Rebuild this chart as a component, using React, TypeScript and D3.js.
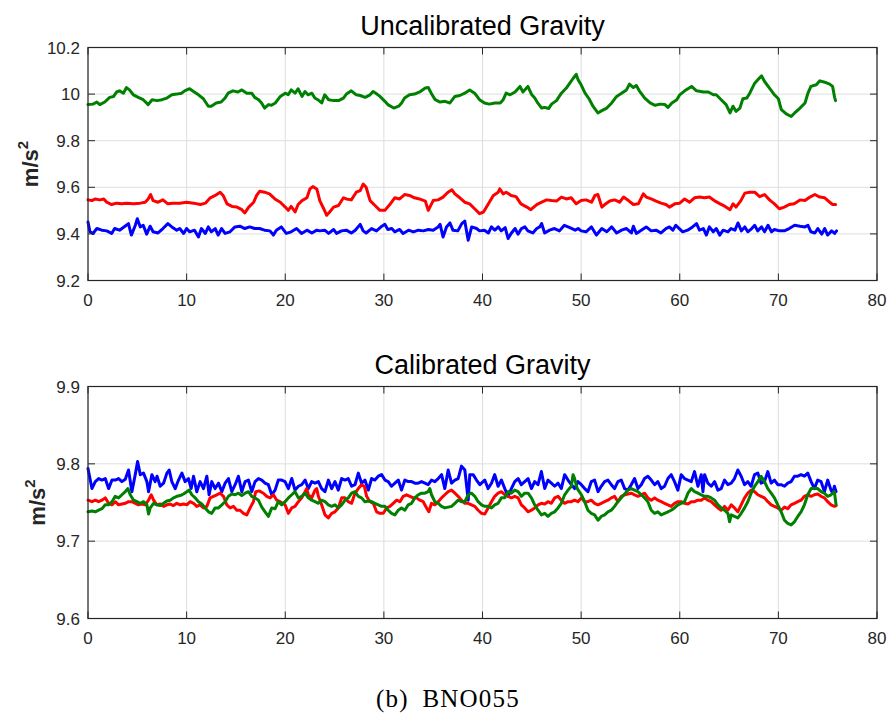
import React from 'react';
import * as d3 from 'd3';

type P = [number, number];

const xTicks = [0, 10, 20, 30, 40, 50, 60, 70, 80];
const topYTicks = [9.2, 9.4, 9.6, 9.8, 10, 10.2];
const botYTicks = [9.6, 9.7, 9.8, 9.9];
const topTitle = 'Uncalibrated Gravity';
const botTitle = 'Calibrated Gravity';
const yLabelMain = 'm/s';
const yLabelSup = '2';
const caption = '(b)\u2002BNO055';

const topGreen: P[] = [[0,9.955],[0.5,9.957],[0.9,9.966],[1.2,9.955],[1.7,9.966],[2.2,9.986],[2.6,9.990],[2.9,10.009],[3.2,10.014],[3.6,10.004],[3.9,10.028],[4.2,10.018],[4.6,9.997],[5.1,9.986],[5.6,9.976],[6.1,9.955],[6.5,9.976],[7.0,9.972],[7.5,9.976],[8.0,9.983],[8.5,9.997],[9.0,10.0],[9.5,10.004],[9.8,10.014],[10.3,10.023],[10.7,10.011],[11.2,9.997],[11.7,9.980],[12.2,9.948],[12.5,9.948],[13.0,9.962],[13.5,9.966],[13.9,9.983],[14.2,10.004],[14.7,10.014],[15.2,10.009],[15.6,10.018],[16.1,10.004],[16.6,10.004],[16.9,9.986],[17.3,9.976],[17.6,9.962],[17.9,9.940],[18.3,9.955],[18.6,9.952],[19.0,9.962],[19.5,9.990],[20.0,10.004],[20.3,9.997],[20.6,10.018],[21.0,10.004],[21.3,10.023],[21.7,9.990],[22.0,10.011],[22.3,9.997],[22.7,10.004],[23.0,9.983],[23.3,9.976],[23.7,9.962],[24.0,9.997],[24.4,9.976],[24.9,9.972],[25.4,9.972],[25.9,9.983],[26.2,10.0],[26.7,10.014],[27.2,9.997],[27.6,9.994],[28.1,9.986],[28.6,9.997],[28.9,10.011],[29.3,10.0],[29.6,9.990],[30.1,9.969],[30.4,9.955],[31.0,9.940],[31.5,9.948],[31.8,9.962],[32.1,9.983],[32.6,9.997],[33.1,10.0],[33.7,10.011],[34.2,10.026],[34.5,10.028],[34.8,10.004],[35.2,9.976],[35.7,9.966],[36.2,9.969],[36.7,9.962],[37.2,9.990],[37.7,9.994],[38.2,10.004],[38.7,10.018],[39.2,10.004],[39.7,9.976],[40.2,9.962],[40.7,9.957],[41.25,9.962],[41.8,9.962],[42.1,9.976],[42.4,10.004],[42.8,9.997],[43.3,10.009],[43.8,10.033],[44.1,10.009],[44.6,10.033],[45.0,9.997],[45.3,9.983],[45.6,9.962],[46.0,9.940],[46.3,9.943],[46.7,9.938],[47.0,9.957],[47.5,9.972],[48.0,10.004],[48.5,10.026],[48.85,10.047],[49.2,10.068],[49.5,10.085],[49.7,10.061],[50.0,10.040],[50.4,10.004],[50.8,9.980],[51.2,9.948],[51.7,9.919],[52.1,9.929],[52.6,9.940],[53.1,9.962],[53.6,9.990],[54.1,10.004],[54.6,10.018],[54.9,10.043],[55.3,10.028],[55.6,10.037],[55.9,10.014],[56.45,9.983],[57.0,9.962],[57.5,9.952],[58.0,9.957],[58.5,9.955],[58.8,9.943],[59.2,9.962],[59.7,9.976],[60.0,9.997],[60.5,10.014],[61.2,10.033],[61.7,10.014],[62.4,10.009],[62.9,10.009],[63.4,9.997],[63.7,9.997],[64.2,9.976],[64.7,9.955],[65.1,9.919],[65.4,9.948],[65.7,9.926],[66.1,9.940],[66.4,9.980],[66.8,9.983],[67.1,10.004],[67.6,10.047],[67.9,10.061],[68.3,10.078],[68.6,10.054],[69.1,10.026],[69.6,9.997],[70.0,9.980],[70.3,9.933],[70.8,9.915],[71.3,9.904],[71.65,9.919],[72.2,9.940],[72.7,9.962],[73.0,10.004],[73.3,10.033],[73.85,10.040],[74.2,10.057],[74.7,10.051],[75.2,10.043],[75.5,10.033],[75.7,9.986],[75.8,9.972]];

const topRed: P[] = [[0,9.546],[0.4,9.543],[0.7,9.550],[1.2,9.546],[1.6,9.550],[1.9,9.536],[2.4,9.526],[2.9,9.532],[3.4,9.529],[3.9,9.532],[4.6,9.529],[5.3,9.532],[5.8,9.536],[6.1,9.550],[6.35,9.569],[6.6,9.543],[7.1,9.536],[7.6,9.546],[8.1,9.529],[8.6,9.532],[9.3,9.532],[10.0,9.536],[10.7,9.532],[11.4,9.526],[11.9,9.532],[12.4,9.555],[12.9,9.565],[13.4,9.579],[13.7,9.565],[14.1,9.529],[14.6,9.518],[15.1,9.515],[15.6,9.504],[15.9,9.490],[16.3,9.515],[16.8,9.536],[17.1,9.565],[17.4,9.583],[17.9,9.579],[18.4,9.572],[18.95,9.550],[19.5,9.536],[20.0,9.515],[20.3,9.501],[20.6,9.518],[21.0,9.494],[21.3,9.526],[21.7,9.543],[22.2,9.555],[22.5,9.593],[22.8,9.603],[23.2,9.593],[23.5,9.543],[23.9,9.508],[24.2,9.480],[24.5,9.494],[24.9,9.515],[25.4,9.522],[25.9,9.555],[26.2,9.550],[26.7,9.546],[27.2,9.579],[27.6,9.586],[27.9,9.614],[28.2,9.600],[28.6,9.543],[29.1,9.522],[29.6,9.501],[30.1,9.501],[30.6,9.526],[31.1,9.555],[31.6,9.550],[32.1,9.569],[32.6,9.565],[33.1,9.555],[33.6,9.550],[34.2,9.541],[34.5,9.501],[35.0,9.543],[35.5,9.546],[36.0,9.558],[36.5,9.579],[36.9,9.589],[37.2,9.572],[37.7,9.555],[38.2,9.536],[38.7,9.529],[39.2,9.508],[39.7,9.487],[40.1,9.494],[40.6,9.529],[41.1,9.565],[41.6,9.579],[41.75,9.593],[42.1,9.572],[42.4,9.579],[42.9,9.565],[43.4,9.560],[43.9,9.529],[44.5,9.515],[44.9,9.504],[45.5,9.526],[46.0,9.536],[46.5,9.546],[47.0,9.543],[47.5,9.541],[48.0,9.558],[48.5,9.550],[49.0,9.555],[49.5,9.529],[50.0,9.543],[50.5,9.546],[51.05,9.536],[51.4,9.565],[51.7,9.569],[52.1,9.515],[52.4,9.526],[52.9,9.541],[53.4,9.546],[53.9,9.536],[54.3,9.558],[54.8,9.543],[55.3,9.526],[55.8,9.529],[56.3,9.572],[56.6,9.558],[57.1,9.550],[57.6,9.541],[58.1,9.532],[58.6,9.526],[58.95,9.515],[59.5,9.529],[60.0,9.532],[60.5,9.550],[61.0,9.536],[61.5,9.555],[62.0,9.558],[62.5,9.555],[63.0,9.558],[63.5,9.543],[64.1,9.529],[64.6,9.518],[65.1,9.504],[65.4,9.529],[65.7,9.515],[66.2,9.543],[66.6,9.575],[67.1,9.579],[67.6,9.579],[68.1,9.560],[68.6,9.569],[69.1,9.546],[69.6,9.529],[70.1,9.508],[70.6,9.515],[71.1,9.526],[71.6,9.529],[72.2,9.546],[72.7,9.543],[73.2,9.558],[73.7,9.569],[74.2,9.558],[74.7,9.555],[75.2,9.536],[75.5,9.526],[75.8,9.526]];

const topBlue: P[] = [[0,9.451],[0.2,9.409],[0.5,9.402],[0.9,9.423],[1.4,9.416],[1.9,9.413],[2.4,9.402],[2.7,9.423],[3.2,9.416],[3.75,9.433],[4.1,9.444],[4.4,9.395],[4.8,9.437],[5.0,9.465],[5.3,9.430],[5.6,9.437],[5.95,9.399],[6.3,9.433],[6.6,9.409],[7.1,9.404],[7.6,9.423],[8.1,9.444],[8.5,9.430],[9.0,9.416],[9.3,9.423],[9.7,9.402],[10.0,9.423],[10.3,9.409],[10.8,9.416],[11.2,9.387],[11.5,9.423],[11.9,9.402],[12.2,9.430],[12.5,9.409],[12.9,9.423],[13.2,9.395],[13.55,9.423],[13.9,9.402],[14.4,9.409],[14.9,9.430],[15.4,9.433],[15.9,9.423],[16.4,9.430],[16.9,9.423],[17.4,9.423],[17.9,9.416],[18.45,9.413],[18.8,9.395],[19.1,9.416],[19.6,9.430],[20.1,9.402],[20.6,9.409],[21.15,9.423],[21.65,9.402],[22.2,9.416],[22.7,9.404],[23.2,9.416],[23.5,9.413],[24.0,9.416],[24.4,9.402],[24.9,9.419],[25.2,9.402],[25.7,9.413],[26.2,9.416],[26.7,9.404],[27.1,9.416],[27.6,9.441],[27.9,9.413],[28.2,9.404],[28.75,9.423],[29.25,9.413],[29.8,9.433],[30.1,9.441],[30.4,9.419],[30.8,9.423],[31.1,9.409],[31.6,9.419],[31.95,9.402],[32.5,9.416],[33.0,9.409],[33.5,9.416],[34.0,9.413],[34.5,9.419],[35.0,9.416],[35.5,9.430],[35.7,9.441],[36.0,9.387],[36.35,9.430],[36.7,9.447],[37.0,9.416],[37.5,9.413],[37.9,9.444],[38.2,9.455],[38.55,9.373],[38.9,9.430],[39.4,9.423],[39.7,9.413],[40.2,9.416],[40.6,9.404],[40.9,9.430],[41.25,9.416],[41.6,9.430],[41.9,9.413],[42.3,9.427],[42.6,9.380],[42.9,9.402],[43.3,9.423],[43.6,9.399],[43.95,9.423],[44.3,9.430],[44.6,9.413],[45.1,9.404],[45.5,9.423],[45.8,9.430],[46.0,9.444],[46.3,9.404],[46.8,9.416],[47.3,9.423],[47.8,9.413],[48.3,9.437],[48.85,9.427],[49.4,9.416],[49.7,9.423],[50.0,9.413],[50.5,9.409],[51.05,9.430],[51.55,9.395],[52.1,9.423],[52.6,9.409],[53.1,9.430],[53.6,9.404],[54.1,9.416],[54.6,9.423],[55.1,9.404],[55.3,9.433],[55.6,9.402],[56.1,9.416],[56.6,9.430],[57.1,9.413],[57.6,9.416],[58.1,9.404],[58.6,9.423],[58.95,9.430],[59.3,9.416],[59.6,9.437],[59.95,9.423],[60.3,9.409],[60.8,9.416],[61.3,9.430],[61.7,9.444],[62.0,9.416],[62.4,9.423],[62.7,9.395],[63.0,9.430],[63.4,9.409],[63.7,9.423],[64.05,9.395],[64.4,9.416],[64.9,9.409],[65.2,9.423],[65.6,9.416],[65.9,9.447],[66.25,9.413],[66.6,9.430],[66.9,9.409],[67.3,9.423],[67.6,9.437],[67.9,9.413],[68.3,9.430],[68.6,9.409],[68.95,9.437],[69.3,9.409],[69.6,9.419],[70.1,9.413],[70.6,9.413],[71.1,9.423],[71.65,9.437],[72.2,9.433],[72.7,9.430],[73.0,9.437],[73.3,9.409],[73.7,9.404],[74.0,9.423],[74.4,9.399],[74.7,9.423],[75.0,9.395],[75.4,9.413],[75.7,9.402],[75.9,9.413]];

const botBlue: P[] = [[0,9.794],[0.4,9.768],[0.74,9.777],[1.08,9.781],[1.41,9.779],[1.75,9.781],[2.09,9.768],[2.43,9.779],[2.76,9.779],[3.1,9.781],[3.44,9.777],[3.78,9.780],[4.11,9.792],[4.45,9.764],[4.79,9.786],[5.03,9.803],[5.3,9.786],[5.63,9.788],[5.97,9.777],[6.14,9.764],[6.48,9.786],[6.81,9.777],[7.0,9.784],[7.32,9.771],[7.66,9.775],[8.0,9.788],[8.23,9.792],[8.5,9.777],[8.84,9.768],[9.18,9.779],[9.52,9.788],[9.85,9.777],[10.19,9.781],[10.46,9.768],[10.7,9.784],[11.03,9.764],[11.37,9.777],[11.71,9.768],[12.05,9.784],[12.28,9.760],[12.55,9.777],[12.89,9.768],[13.23,9.775],[13.57,9.764],[13.9,9.775],[14.24,9.781],[14.58,9.764],[14.92,9.773],[15.25,9.784],[15.59,9.764],[15.93,9.777],[16.27,9.779],[16.6,9.764],[16.94,9.777],[17.28,9.781],[17.62,9.779],[17.95,9.775],[18.29,9.773],[18.63,9.760],[18.97,9.766],[19.3,9.779],[19.64,9.779],[19.98,9.777],[20.32,9.768],[20.66,9.781],[20.99,9.766],[21.33,9.771],[21.67,9.773],[22.01,9.779],[22.34,9.768],[22.68,9.777],[23.02,9.775],[23.36,9.777],[23.69,9.768],[24.03,9.764],[24.37,9.779],[24.71,9.768],[25.04,9.777],[25.38,9.766],[25.72,9.781],[26.06,9.779],[26.39,9.781],[26.73,9.771],[27.07,9.773],[27.41,9.788],[27.74,9.775],[28.08,9.779],[28.42,9.766],[28.76,9.781],[29.09,9.779],[29.43,9.784],[29.77,9.786],[30.11,9.779],[30.44,9.777],[30.78,9.771],[31.12,9.775],[31.46,9.779],[31.79,9.766],[32.13,9.779],[32.47,9.777],[32.81,9.777],[33.14,9.775],[33.48,9.775],[33.82,9.777],[34.16,9.775],[34.49,9.773],[34.83,9.779],[35.17,9.777],[35.51,9.781],[35.85,9.786],[36.18,9.768],[36.52,9.792],[36.86,9.775],[37.2,9.779],[37.53,9.781],[37.87,9.797],[38.21,9.792],[38.55,9.753],[38.71,9.786],[39.05,9.786],[39.39,9.779],[39.73,9.773],[40.23,9.779],[40.57,9.768],[40.91,9.775],[41.24,9.786],[41.58,9.771],[41.92,9.779],[42.26,9.768],[42.59,9.758],[42.93,9.768],[43.27,9.777],[43.61,9.781],[43.94,9.773],[44.28,9.777],[44.62,9.781],[44.96,9.768],[45.29,9.777],[45.63,9.773],[45.97,9.790],[46.31,9.768],[46.64,9.779],[46.98,9.775],[47.32,9.771],[47.66,9.775],[47.99,9.768],[48.33,9.786],[48.67,9.779],[49.01,9.773],[49.34,9.768],[49.68,9.777],[50.02,9.773],[50.36,9.768],[50.69,9.764],[51.03,9.777],[51.37,9.779],[51.71,9.764],[52.04,9.771],[52.38,9.777],[52.72,9.779],[53.06,9.773],[53.39,9.768],[53.73,9.777],[54.07,9.779],[54.41,9.768],[54.75,9.766],[55.08,9.773],[55.42,9.781],[55.76,9.768],[56.1,9.773],[56.43,9.781],[56.77,9.784],[57.11,9.779],[57.45,9.773],[57.78,9.777],[58.12,9.768],[58.46,9.771],[58.8,9.781],[59.13,9.786],[59.47,9.777],[59.81,9.766],[60.15,9.786],[60.48,9.781],[60.83,9.779],[61.17,9.777],[61.5,9.790],[61.84,9.771],[62.18,9.786],[62.35,9.764],[62.52,9.786],[62.85,9.775],[63.19,9.771],[63.53,9.777],[63.87,9.766],[64.2,9.768],[64.54,9.779],[64.88,9.773],[65.22,9.775],[65.55,9.781],[65.89,9.792],[66.23,9.784],[66.57,9.773],[66.9,9.777],[67.24,9.771],[67.58,9.786],[67.92,9.788],[68.25,9.775],[68.59,9.777],[68.93,9.790],[69.27,9.775],[69.6,9.779],[69.94,9.773],[70.28,9.773],[70.62,9.771],[70.95,9.775],[71.29,9.777],[71.63,9.784],[71.97,9.784],[72.3,9.786],[72.64,9.784],[72.98,9.788],[73.32,9.777],[73.65,9.768],[73.99,9.779],[74.33,9.777],[74.67,9.764],[75.0,9.779],[75.34,9.766],[75.51,9.762],[75.68,9.771],[75.85,9.764]];

const botRed: P[] = [[0,9.753],[0.4,9.751],[0.74,9.753],[1.08,9.751],[1.41,9.753],[1.75,9.756],[2.09,9.749],[2.43,9.747],[2.76,9.751],[3.1,9.747],[3.44,9.748],[3.78,9.749],[4.11,9.751],[4.45,9.751],[4.79,9.749],[5.1,9.747],[5.46,9.748],[5.8,9.747],[6.14,9.753],[6.41,9.760],[6.65,9.753],[6.98,9.747],[7.32,9.748],[7.66,9.745],[8.0,9.747],[8.33,9.748],[8.67,9.746],[9.01,9.749],[9.35,9.747],[9.68,9.748],[10.02,9.747],[10.36,9.751],[10.7,9.749],[11.03,9.745],[11.37,9.747],[11.71,9.743],[12.05,9.745],[12.38,9.756],[12.72,9.758],[13.06,9.760],[13.4,9.762],[13.74,9.758],[14.07,9.747],[14.41,9.743],[14.75,9.745],[15.09,9.740],[15.42,9.740],[15.76,9.736],[16.1,9.734],[16.44,9.743],[16.77,9.751],[17.01,9.764],[17.35,9.765],[17.79,9.762],[18.12,9.758],[18.46,9.756],[18.8,9.760],[19.14,9.753],[19.47,9.751],[19.98,9.747],[20.32,9.736],[20.66,9.743],[20.99,9.745],[21.33,9.751],[21.67,9.756],[22.01,9.764],[22.17,9.768],[22.34,9.760],[22.68,9.756],[23.02,9.766],[23.19,9.768],[23.36,9.758],[23.69,9.747],[24.03,9.734],[24.37,9.730],[24.71,9.736],[25.04,9.738],[25.38,9.743],[25.72,9.756],[26.06,9.756],[26.39,9.751],[26.73,9.749],[27.07,9.762],[27.41,9.768],[27.74,9.773],[28.02,9.771],[28.25,9.758],[28.59,9.751],[28.93,9.749],[29.26,9.738],[29.6,9.736],[29.94,9.736],[30.28,9.743],[30.61,9.745],[30.95,9.749],[31.29,9.753],[31.63,9.751],[31.96,9.758],[32.3,9.760],[32.64,9.758],[32.98,9.756],[33.31,9.756],[33.65,9.753],[33.99,9.751],[34.33,9.743],[34.56,9.738],[34.83,9.749],[35.17,9.747],[35.51,9.751],[35.85,9.756],[36.18,9.760],[36.52,9.764],[36.86,9.766],[37.2,9.762],[37.53,9.758],[37.87,9.753],[38.21,9.749],[38.55,9.749],[38.88,9.747],[39.22,9.745],[39.56,9.740],[39.9,9.736],[40.23,9.735],[40.57,9.743],[40.91,9.751],[41.24,9.758],[41.58,9.762],[41.92,9.764],[42.26,9.760],[42.59,9.758],[42.93,9.756],[43.27,9.758],[43.61,9.756],[43.94,9.747],[44.28,9.743],[44.62,9.738],[44.96,9.740],[45.29,9.743],[45.63,9.747],[45.97,9.749],[46.31,9.748],[46.64,9.751],[46.98,9.749],[47.32,9.756],[47.66,9.758],[47.99,9.753],[48.33,9.749],[48.67,9.751],[49.01,9.751],[49.34,9.753],[49.68,9.751],[50.02,9.756],[50.36,9.751],[50.69,9.751],[51.03,9.753],[51.37,9.749],[51.71,9.747],[52.04,9.749],[52.38,9.751],[52.72,9.753],[53.06,9.756],[53.39,9.758],[53.73,9.751],[54.07,9.758],[54.41,9.760],[54.75,9.761],[55.08,9.762],[55.42,9.760],[55.76,9.758],[56.1,9.760],[56.43,9.762],[56.77,9.756],[57.11,9.753],[57.45,9.756],[57.78,9.753],[58.12,9.751],[58.46,9.749],[58.8,9.747],[59.13,9.745],[59.47,9.749],[59.81,9.751],[60.15,9.751],[60.48,9.749],[60.83,9.748],[61.17,9.751],[61.5,9.751],[61.84,9.753],[62.18,9.753],[62.52,9.756],[62.85,9.753],[63.19,9.751],[63.53,9.747],[63.87,9.743],[64.2,9.740],[64.54,9.745],[64.88,9.740],[65.22,9.747],[65.55,9.743],[65.89,9.738],[66.23,9.747],[66.57,9.756],[66.9,9.762],[67.24,9.766],[67.58,9.764],[67.92,9.760],[68.25,9.758],[68.59,9.756],[68.93,9.751],[69.27,9.747],[69.6,9.745],[69.94,9.743],[70.28,9.740],[70.62,9.744],[70.95,9.742],[71.29,9.747],[71.63,9.749],[71.97,9.751],[72.3,9.753],[72.64,9.758],[72.98,9.760],[73.32,9.758],[73.65,9.760],[73.99,9.761],[74.33,9.758],[74.67,9.756],[75.0,9.751],[75.34,9.747],[75.68,9.745],[75.85,9.746]];

const botGreen: P[] = [[0,9.738],[0.4,9.739],[0.74,9.738],[1.08,9.740],[1.41,9.742],[1.75,9.747],[2.09,9.747],[2.43,9.751],[2.76,9.758],[3.1,9.756],[3.44,9.760],[3.78,9.764],[4.05,9.768],[4.28,9.760],[4.62,9.753],[4.96,9.751],[5.3,9.749],[5.63,9.751],[5.97,9.747],[6.14,9.735],[6.31,9.743],[6.65,9.749],[6.98,9.747],[7.32,9.746],[7.66,9.749],[8.0,9.752],[8.33,9.753],[8.67,9.756],[9.01,9.758],[9.35,9.759],[9.68,9.761],[10.02,9.764],[10.26,9.766],[10.53,9.760],[10.87,9.756],[11.2,9.751],[11.54,9.748],[11.88,9.743],[12.22,9.738],[12.55,9.736],[12.89,9.743],[13.23,9.743],[13.57,9.747],[13.9,9.751],[14.24,9.758],[14.58,9.761],[14.92,9.760],[15.25,9.762],[15.59,9.759],[15.93,9.762],[16.27,9.764],[16.6,9.758],[16.94,9.756],[17.28,9.753],[17.62,9.744],[17.95,9.738],[18.29,9.732],[18.63,9.743],[18.97,9.742],[19.3,9.751],[19.64,9.747],[19.98,9.751],[20.32,9.756],[20.66,9.760],[20.99,9.764],[21.33,9.756],[21.67,9.758],[22.01,9.762],[22.34,9.756],[22.68,9.753],[23.02,9.751],[23.36,9.749],[23.69,9.753],[24.03,9.751],[24.37,9.747],[24.71,9.745],[25.04,9.747],[25.38,9.743],[25.72,9.747],[26.06,9.753],[26.39,9.756],[26.73,9.762],[27.07,9.764],[27.41,9.758],[27.74,9.756],[28.08,9.751],[28.42,9.752],[28.76,9.751],[29.09,9.749],[29.43,9.747],[29.77,9.745],[30.11,9.745],[30.44,9.740],[30.78,9.736],[31.12,9.734],[31.46,9.740],[31.79,9.743],[32.13,9.740],[32.47,9.747],[32.81,9.749],[33.14,9.756],[33.48,9.760],[33.82,9.762],[34.16,9.762],[34.49,9.764],[34.66,9.768],[34.83,9.760],[35.17,9.751],[35.51,9.749],[35.85,9.745],[36.18,9.743],[36.52,9.744],[36.86,9.745],[37.2,9.749],[37.53,9.753],[37.87,9.751],[38.21,9.751],[38.55,9.760],[38.88,9.762],[39.22,9.758],[39.56,9.751],[39.9,9.747],[40.23,9.745],[40.57,9.745],[40.91,9.743],[41.24,9.747],[41.58,9.749],[41.92,9.756],[42.26,9.756],[42.59,9.764],[42.93,9.762],[43.27,9.766],[43.61,9.764],[43.94,9.758],[44.28,9.762],[44.62,9.762],[44.96,9.756],[45.29,9.747],[45.63,9.740],[45.97,9.734],[46.31,9.736],[46.64,9.732],[46.98,9.736],[47.32,9.738],[47.66,9.743],[47.99,9.749],[48.33,9.760],[48.67,9.766],[49.01,9.771],[49.18,9.786],[49.34,9.781],[49.61,9.768],[50.02,9.760],[50.36,9.751],[50.69,9.740],[51.03,9.736],[51.37,9.734],[51.71,9.727],[52.04,9.732],[52.38,9.734],[52.72,9.738],[53.06,9.740],[53.39,9.745],[53.73,9.751],[54.07,9.756],[54.41,9.761],[54.75,9.766],[55.08,9.768],[55.42,9.766],[55.76,9.764],[56.1,9.760],[56.43,9.756],[56.77,9.751],[57.11,9.740],[57.45,9.736],[57.78,9.738],[58.12,9.734],[58.46,9.736],[58.8,9.738],[59.13,9.740],[59.47,9.743],[59.81,9.747],[60.15,9.749],[60.48,9.751],[60.83,9.762],[61.17,9.768],[61.5,9.764],[61.84,9.762],[62.18,9.760],[62.52,9.758],[62.85,9.758],[63.19,9.756],[63.53,9.753],[63.87,9.747],[64.2,9.743],[64.54,9.740],[64.88,9.736],[65.05,9.725],[65.22,9.734],[65.55,9.732],[65.89,9.730],[66.23,9.736],[66.57,9.743],[66.9,9.751],[67.24,9.762],[67.58,9.771],[67.92,9.777],[68.25,9.784],[68.59,9.777],[68.93,9.768],[69.27,9.762],[69.6,9.756],[69.94,9.747],[70.28,9.738],[70.62,9.727],[70.95,9.723],[71.29,9.721],[71.63,9.725],[71.97,9.732],[72.3,9.738],[72.64,9.747],[72.98,9.760],[73.32,9.768],[73.65,9.768],[73.99,9.768],[74.33,9.764],[74.67,9.762],[75.0,9.758],[75.34,9.760],[75.68,9.764],[75.85,9.747]];

const W = 892;
const H = 717;
const LEFT = 88;
const RIGHT = 877;
const AXIS_COLOR = '#262626';
const GRID_COLOR = '#dedede';
const SANS = '"Liberation Sans", Arial, Helvetica, sans-serif';
const COLORS = { blue: '#0000ff', red: '#ff0000', green: '#008000' };

type PanelProps = {
  top: number;
  bottom: number;
  yDomain: [number, number];
  yTicks: number[];
  title: string;
  series: { data: P[]; color: string }[];
  ylabelX: number;
};

function fmt(v: number) {
  return String(+v.toFixed(2));
}

function Panel({ top, bottom, yDomain, yTicks, title, series, ylabelX }: PanelProps) {
  const x = d3.scaleLinear().domain([0, 80]).range([LEFT, RIGHT]);
  const y = d3.scaleLinear().domain(yDomain).range([bottom, top]);
  const line = d3
    .line<P>()
    .x((d) => x(d[0]))
    .y((d) => y(d[1]));
  const tl = 7;
  const midY = (top + bottom) / 2;
  return (
    <g>
      {xTicks.map((t) => (
        <line key={'gx' + t} x1={x(t)} x2={x(t)} y1={top} y2={bottom} stroke={GRID_COLOR} strokeWidth={1} />
      ))}
      {yTicks.map((t) => (
        <line key={'gy' + t} x1={LEFT} x2={RIGHT} y1={y(t)} y2={y(t)} stroke={GRID_COLOR} strokeWidth={1} />
      ))}
      {series.map((s, i) => (
        <path
          key={i}
          d={line(s.data) || ''}
          fill="none"
          stroke={s.color}
          strokeWidth={3}
          strokeLinejoin="round"
          strokeLinecap="round"
        />
      ))}
      {xTicks.map((t) => (
        <g key={'tx' + t}>
          <line x1={x(t)} x2={x(t)} y1={bottom} y2={bottom - tl} stroke={AXIS_COLOR} strokeWidth={1} />
          <line x1={x(t)} x2={x(t)} y1={top} y2={top + tl} stroke={AXIS_COLOR} strokeWidth={1} />
          <text x={x(t)} y={bottom + 25} textAnchor="middle" fontFamily={SANS} fontSize={17} fill={AXIS_COLOR}>
            {fmt(t)}
          </text>
        </g>
      ))}
      {yTicks.map((t) => (
        <g key={'ty' + t}>
          <line x1={LEFT} x2={LEFT + tl} y1={y(t)} y2={y(t)} stroke={AXIS_COLOR} strokeWidth={1} />
          <line x1={RIGHT} x2={RIGHT - tl} y1={y(t)} y2={y(t)} stroke={AXIS_COLOR} strokeWidth={1} />
          <text x={LEFT - 8} y={y(t) + 6} textAnchor="end" fontFamily={SANS} fontSize={17} fill={AXIS_COLOR}>
            {fmt(t)}
          </text>
        </g>
      ))}
      <rect x={LEFT} y={top} width={RIGHT - LEFT} height={bottom - top} fill="none" stroke={AXIS_COLOR} strokeWidth={1.2} />
      <text x={(LEFT + RIGHT) / 2} y={top - 13} textAnchor="middle" fontFamily={SANS} fontSize={27} fill="#000">
        {title}
      </text>
      <text
        transform={`translate(${ylabelX},${midY}) rotate(-90)`}
        textAnchor="middle"
        fontFamily={SANS}
        fontSize={22}
        fontWeight="bold"
        fill={AXIS_COLOR}
      >
        {yLabelMain}
        <tspan dy={-10} fontSize={15}>
          {yLabelSup}
        </tspan>
      </text>
    </g>
  );
}

export default function App() {
  return (
    <svg
      width={W}
      height={H}
      viewBox={`0 0 ${W} ${H}`}
      style={{ position: 'absolute', left: 0, top: 0, background: '#fff' }}
    >
      <rect x={0} y={0} width={W} height={H} fill="#fff" />
      <Panel
        top={47.5}
        bottom={280.5}
        yDomain={[9.2, 10.2]}
        yTicks={topYTicks}
        title={topTitle}
        ylabelX={38}
        series={[
          { data: topBlue, color: COLORS.blue },
          { data: topRed, color: COLORS.red },
          { data: topGreen, color: COLORS.green },
        ]}
      />
      <Panel
        top={386.5}
        bottom={618.5}
        yDomain={[9.6, 9.9]}
        yTicks={botYTicks}
        title={botTitle}
        ylabelX={45}
        series={[
          { data: botBlue, color: COLORS.blue },
          { data: botRed, color: COLORS.red },
          { data: botGreen, color: COLORS.green },
        ]}
      />
      <text
        x={448}
        y={707}
        textAnchor="middle"
        fontFamily='"Liberation Serif", "DejaVu Serif", serif'
        fontSize={25}
        letterSpacing={1.2}
        fill="#000"
      >
        {caption}
      </text>
    </svg>
  );
}
